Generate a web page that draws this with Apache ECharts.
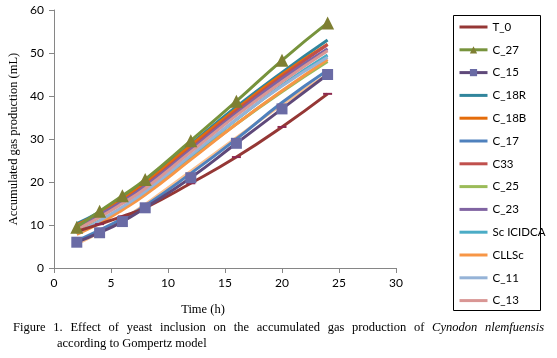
<!DOCTYPE html>
<html>
<head>
<meta charset="utf-8">
<script src="https://cdn.jsdelivr.net/npm/echarts@6/dist/echarts.min.js"></script>
<style>html,body{margin:0;padding:0;background:#fff}#c{width:557px;height:358px}</style>
</head>
<body>
<div id="c"></div>
<script>
const hours = [2, 4, 6, 8, 12, 16, 20, 24];
const xTicks = [0, 5, 10, 15, 20, 25, 30];
const yTicks = [0, 10, 20, 30, 40, 50, 60];

const T_0      = [8.5, 10.2, 12.0, 14.0, 19.7, 25.8, 32.8, 40.5];
const C_27     = [9.5, 13.2, 16.8, 20.6, 29.6, 38.8, 48.3, 57.0];
const C_15     = [6.0, 8.2, 10.8, 14.0, 21.0, 29.0, 37.0, 45.0];
const C_18R    = [10.3, 13.0, 16.3, 20.0, 28.8, 37.5, 45.5, 53.0];
const C_18B    = [10.0, 12.8, 16.0, 19.7, 28.5, 37.0, 45.0, 52.0];
const C_17     = [6.3, 8.8, 11.5, 14.5, 22.0, 30.0, 38.5, 46.0];
const C33      = [9.5, 12.3, 15.5, 19.2, 27.8, 36.5, 44.5, 52.0];
const C_25     = [8.5, 11.0, 14.0, 17.5, 25.5, 33.5, 41.0, 48.0];
const C_23     = [9.7, 12.4, 15.5, 19.0, 27.5, 36.0, 44.0, 51.0];
const ScICIDCA = [8.0, 10.8, 14.0, 17.5, 26.0, 34.5, 42.5, 49.5];
const CLLSc    = [7.8, 10.4, 13.5, 17.0, 25.2, 33.5, 41.2, 48.5];
const C_11     = [8.2, 11.0, 14.2, 17.8, 26.2, 34.6, 42.3, 49.0];
const C_13     = [9.0, 11.8, 15.0, 18.5, 27.0, 35.5, 43.3, 50.5];
const C_extra  = [5.6, 8.3, 11.3, 14.8, 22.5, 30.3, 38.0, 45.0];

const seriesNames = ['T_0','C_27','C_15','C_18R','C_18B','C_17','C33','C_25','C_23','Sc ICIDCA','CLLSc','C_11','C_13'];
const seriesData  = [T_0, C_27, C_15, C_18R, C_18B, C_17, C33, C_25, C_23, ScICIDCA, CLLSc, C_11, C_13];
const colors = ['#953735','#77933C','#5F497A','#31859C','#E46C0A','#4F81BD','#C0504D','#9BBB59','#8064A2','#4BACC6','#F79646','#95B3D7','#D99694'];

const yTitle = 'Accumulated gas production (mL)';
const xTitle = 'Time (h)';
const captionLine1 = ['Figure','1.','Effect','of','yeast','inclusion','on','the','accumulated','gas','production','of','Cynodon','nlemfuensis'];
const captionItalic = ['Cynodon','nlemfuensis'];
const captionLine2 = 'according to Gompertz model';

function pair(arr){ return hours.map((h,i)=>[h,arr[i]]); }

const series = [];
series.push({name:'_extra', type:'line', smooth:true, symbol:'none', data:pair(C_extra),
  lineStyle:{width:3,color:'#FAC090'}, itemStyle:{color:'#FAC090'}, z:2});
seriesNames.forEach((n,i)=>{
  const s = {name:n, type:'line', smooth:true, data:pair(seriesData[i]),
    lineStyle:{width:3,color:colors[i]}, itemStyle:{color:colors[i]}, symbol:'none', z:3};
  if(n==='T_0'){ s.symbol='rect'; s.symbolSize=[9,2]; s.itemStyle={color:'#8E2A4F'}; s.z=5; }
  if(n==='C_27'){ s.symbol='triangle'; s.symbolSize=13; s.itemStyle={color:'#7E7F32'}; s.z=6; }
  if(n==='C_15'){ s.symbol='rect'; s.symbolSize=11; s.itemStyle={color:'#6A6BA5'}; s.z=5; }
  series.push(s);
});

const legendData = seriesNames.map(n => {
  if (n === 'C_27' || n === 'C_15') return {name:n};
  return {name:n, itemStyle:{opacity:0}};
});

const chart = echarts.init(document.getElementById('c'), null, {renderer:'canvas'});

const ctx = document.createElement('canvas').getContext('2d');
const fs = 12.5;
const x0 = 13, x1 = 544;
const widths = captionLine1.map(w=>{
  ctx.font = (captionItalic.includes(w)?'italic ':'') + fs + 'px "Liberation Serif"';
  return ctx.measureText(w).width;
});
const total = widths.reduce((a,b)=>a+b,0);
const gap = (x1-x0-total)/(captionLine1.length-1);
const graphics = [];
let cx = x0;
captionLine1.forEach((w,i)=>{
  graphics.push({type:'text', x:cx, y:328, style:{text:w, font:(captionItalic.includes(w)?'italic ':'')+fs+'px "Liberation Serif"', fill:'#000', verticalAlign:'middle'}});
  cx += widths[i]+gap;
});
graphics.push({type:'text', x:57, y:344, style:{text:captionLine2, font:fs+'px "Liberation Serif"', fill:'#000', verticalAlign:'middle'}});
graphics.push({type:'text', x:203, y:310, style:{text:xTitle, font:'12.5px "Liberation Serif"', fill:'#000', align:'center', verticalAlign:'middle'}});
graphics.push({type:'text', x:14, y:139, rotation:Math.PI/2, style:{text:yTitle, font:'12.5px "Liberation Serif"', fill:'#000', align:'center', verticalAlign:'middle'}});
graphics.push({type:'rect', shape:{x:453.5, y:15.5, width:87, height:295}, style:{fill:'none', stroke:'#000', lineWidth:1}});

chart.setOption({
  animation:false,
  grid:{left:54, right:161, top:10, bottom:90, containLabel:false},
  xAxis:{type:'value', min:0, max:30, interval:5,
    axisLine:{lineStyle:{color:'#868686'}}, axisTick:{show:true, length:5, lineStyle:{color:'#868686'}},
    splitLine:{show:false},
    axisLabel:{color:'#000', fontSize:12, fontFamily:'Lato', margin:9}},
  yAxis:{type:'value', min:0, max:60, interval:10,
    axisLine:{show:true, lineStyle:{color:'#868686'}}, axisTick:{show:true, length:5, lineStyle:{color:'#868686'}},
    splitLine:{show:false},
    axisLabel:{color:'#000', fontSize:12, fontFamily:'Lato', margin:10}},
  legend:{data:legendData, orient:'vertical', left:453, top:16, itemWidth:28, itemHeight:9, itemGap:10.8,
    lineStyle:{width:3},
    textStyle:{fontSize:11.5, lineHeight:12, color:'#000', fontFamily:'Lato'}},
  graphic:graphics,
  series:series
});
</script>
</body>
</html>
